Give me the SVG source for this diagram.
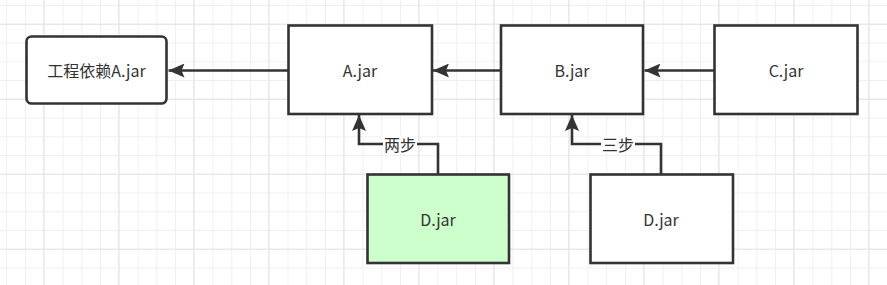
<svg xmlns="http://www.w3.org/2000/svg" width="887" height="285" viewBox="0 0 887 285">
<defs>
<pattern id="minor" patternUnits="userSpaceOnUse" x="6.25" y="5" width="18.75" height="18.75">
<path d="M0.5 0V18.75M0 0.5H18.75" fill="none" stroke="#f0f0f0" stroke-width="1"/>
</pattern>
<pattern id="major" patternUnits="userSpaceOnUse" x="43.3" y="23.7" width="75" height="75">
<path d="M0.5 0V75M0 0.5H75" fill="none" stroke="#e3e3e3" stroke-width="1"/>
</pattern>
<marker id="ah" viewBox="0 0 16 14" refX="16" refY="7" markerWidth="16" markerHeight="14" markerUnits="userSpaceOnUse" orient="auto">
<path d="M0 0L16 7L0 14L3 7Z" fill="#333"/>
</marker>
</defs>
<style>
.box{fill:#fff;stroke:#333;stroke-width:2.6}
.t{font-family:"Noto Sans CJK SC","Liberation Sans",sans-serif;font-size:16px;fill:#333;text-anchor:middle;dominant-baseline:central}
.e{fill:none;stroke:#333;stroke-width:2.6}
.lb{fill:#fff}
</style>
<rect width="887" height="285" fill="#fff"/>
<rect width="887" height="285" fill="url(#minor)"/>
<rect width="887" height="285" fill="url(#major)"/>
<g id="connectors">
<path class="e" d="M288 70.5H168.5" marker-end="url(#ah)"/>
<path class="e" d="M500.5 70.5H433" marker-end="url(#ah)"/>
<path class="e" d="M714 70.5H644.5" marker-end="url(#ah)"/>
<path class="e" d="M438 174V144H359V115" marker-end="url(#ah)"/>
<path class="e" d="M661 174V144H572V115" marker-end="url(#ah)"/>
<rect class="lb" x="383" y="135" width="34" height="18"/>
<text class="t" x="400" y="144">两步</text>
<rect class="lb" x="601" y="135" width="34" height="18"/>
<text class="t" x="618" y="144">三步</text>
</g>
<g id="n-proj">
<rect class="box" x="26.5" y="36.5" width="140" height="67" rx="5"/>
<text class="t" x="96.5" y="70">工程依赖A.jar</text>
</g>
<g id="n-a">
<rect class="box" x="288.5" y="25.5" width="143.5" height="88.5"/>
<text class="t" x="360" y="70">A.jar</text>
</g>
<g id="n-b">
<rect class="box" x="501" y="25.5" width="142" height="88.5"/>
<text class="t" x="572" y="70">B.jar</text>
</g>
<g id="n-c">
<rect class="box" x="714.5" y="25.5" width="143" height="88.5"/>
<text class="t" x="786" y="70">C.jar</text>
</g>
<g id="n-d1">
<rect class="box" x="367.5" y="174.5" width="141.5" height="88.5" style="fill:#ccffcc"/>
<text class="t" x="438" y="219">D.jar</text>
</g>
<g id="n-d2">
<rect class="box" x="590.5" y="174.5" width="142.5" height="88.5"/>
<text class="t" x="661" y="219">D.jar</text>
</g>
</svg>
